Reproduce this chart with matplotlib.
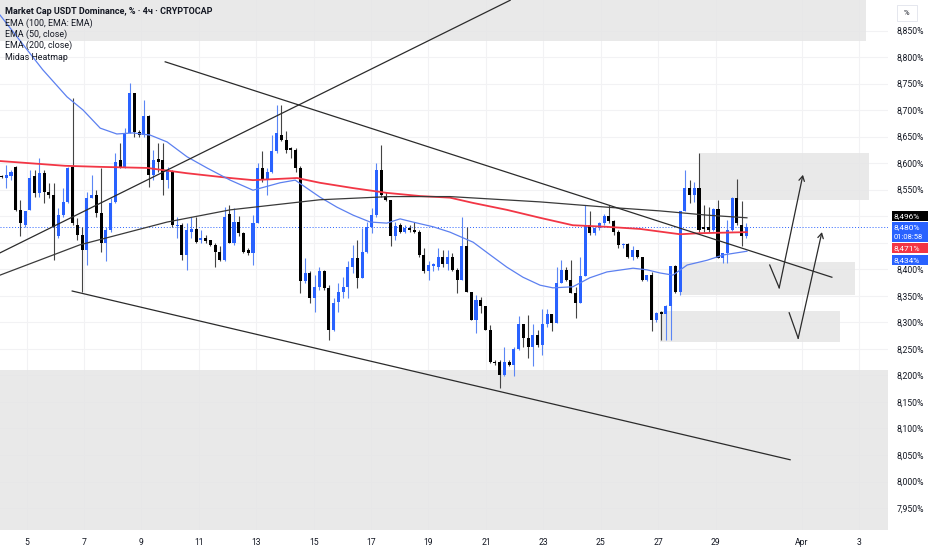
import matplotlib
matplotlib.use("Agg")
import matplotlib.pyplot as plt
from matplotlib.patches import Rectangle
import numpy as np

# 4h candles, USDT dominance (%)
opens = [8.576, 8.572, 8.575, 8.593, 8.512, 8.484, 8.512, 8.575, 8.543, 8.581,
         8.546, 8.540, 8.462, 8.502, 8.527, 8.593, 8.484, 8.465, 8.436, 8.534,
         8.540, 8.506, 8.449, 8.474, 8.527, 8.606, 8.593, 8.656, 8.732, 8.659,
         8.653, 8.688, 8.578, 8.607, 8.606, 8.568, 8.585, 8.482, 8.484, 8.427,
         8.471, 8.476, 8.455, 8.458, 8.455, 8.446, 8.433, 8.418, 8.505, 8.449,
         8.490, 8.468, 8.437, 8.430, 8.487, 8.590, 8.568, 8.584, 8.622, 8.654,
         8.644, 8.628, 8.625, 8.590, 8.377, 8.393, 8.345, 8.367, 8.396, 8.364,
         8.286, 8.339, 8.358, 8.367, 8.405, 8.421, 8.383, 8.433, 8.480, 8.502,
         8.587, 8.538, 8.531, 8.462, 8.484, 8.471, 8.478, 8.474, 8.471, 8.426,
         8.396, 8.407, 8.405, 8.424, 8.410, 8.424, 8.399, 8.380, 8.443, 8.358,
         8.304, 8.342, 8.330, 8.286, 8.226, 8.226, 8.201, 8.226, 8.220, 8.249,
         8.296, 8.270, 8.254, 8.277, 8.257, 8.296, 8.316, 8.299, 8.374, 8.399,
         8.380, 8.355, 8.337, 8.387, 8.483, 8.469, 8.477, 8.487, 8.500, 8.491,
         8.471, 8.445, 8.448, 8.424, 8.436, 8.424, 8.379, 8.389, 8.305, 8.319,
         8.316, 8.330, 8.406, 8.358, 8.509, 8.553, 8.540, 8.553, 8.479, 8.480,
         8.474, 8.513, 8.421, 8.431, 8.474, 8.534, 8.484, 8.462]
highs = [8.578, 8.597, 8.588, 8.595, 8.531, 8.509, 8.587, 8.587, 8.609, 8.587,
         8.562, 8.562, 8.515, 8.553, 8.593, 8.722, 8.496, 8.480, 8.546, 8.578,
         8.549, 8.590, 8.480, 8.534, 8.619, 8.638, 8.666, 8.751, 8.732, 8.662,
         8.719, 8.691, 8.625, 8.638, 8.638, 8.593, 8.587, 8.499, 8.487, 8.487,
         8.499, 8.499, 8.474, 8.465, 8.455, 8.449, 8.443, 8.518, 8.521, 8.515,
         8.500, 8.470, 8.440, 8.503, 8.600, 8.622, 8.590, 8.654, 8.710, 8.710,
         8.660, 8.630, 8.628, 8.594, 8.421, 8.396, 8.390, 8.405, 8.399, 8.370,
         8.345, 8.374, 8.386, 8.415, 8.446, 8.455, 8.478, 8.490, 8.515, 8.600,
         8.634, 8.545, 8.531, 8.490, 8.487, 8.484, 8.484, 8.490, 8.474, 8.440,
         8.415, 8.412, 8.440, 8.437, 8.437, 8.430, 8.403, 8.499, 8.480, 8.358,
         8.351, 8.348, 8.330, 8.295, 8.229, 8.229, 8.254, 8.229, 8.254, 8.311,
         8.296, 8.314, 8.296, 8.285, 8.326, 8.326, 8.316, 8.405, 8.418, 8.405,
         8.418, 8.367, 8.424, 8.521, 8.509, 8.480, 8.490, 8.504, 8.521, 8.493,
         8.474, 8.449, 8.449, 8.443, 8.437, 8.424, 8.389, 8.395, 8.320, 8.322,
         8.333, 8.406, 8.408, 8.509, 8.588, 8.568, 8.565, 8.619, 8.521, 8.518,
         8.515, 8.531, 8.431, 8.493, 8.537, 8.570, 8.528, 8.488]
lows = [8.572, 8.553, 8.569, 8.509, 8.462, 8.480, 8.512, 8.537, 8.537, 8.525,
        8.534, 8.418, 8.459, 8.499, 8.524, 8.484, 8.455, 8.358, 8.408, 8.534,
        8.499, 8.433, 8.415, 8.471, 8.524, 8.590, 8.590, 8.656, 8.650, 8.650,
        8.650, 8.556, 8.568, 8.584, 8.540, 8.553, 8.480, 8.459, 8.418, 8.399,
        8.458, 8.449, 8.449, 8.449, 8.443, 8.405, 8.415, 8.415, 8.449, 8.446,
        8.462, 8.430, 8.427, 8.408, 8.487, 8.565, 8.540, 8.581, 8.619, 8.641,
        8.619, 8.610, 8.584, 8.355, 8.374, 8.336, 8.320, 8.361, 8.361, 8.267,
        8.283, 8.320, 8.345, 8.345, 8.393, 8.364, 8.383, 8.430, 8.468, 8.498,
        8.537, 8.528, 8.443, 8.455, 8.468, 8.468, 8.471, 8.468, 8.424, 8.393,
        8.380, 8.396, 8.399, 8.405, 8.399, 8.396, 8.355, 8.380, 8.358, 8.304,
        8.279, 8.317, 8.286, 8.223, 8.220, 8.176, 8.198, 8.218, 8.198, 8.248,
        8.254, 8.232, 8.217, 8.254, 8.239, 8.292, 8.283, 8.298, 8.374, 8.377,
        8.355, 8.308, 8.337, 8.387, 8.465, 8.465, 8.474, 8.484, 8.488, 8.465,
        8.440, 8.440, 8.421, 8.418, 8.421, 8.377, 8.377, 8.283, 8.300, 8.267,
        8.267, 8.267, 8.355, 8.352, 8.509, 8.525, 8.527, 8.471, 8.471, 8.470,
        8.472, 8.421, 8.411, 8.411, 8.472, 8.484, 8.443, 8.459]
closes = [8.574, 8.578, 8.584, 8.512, 8.487, 8.509, 8.572, 8.543, 8.581, 8.546,
          8.540, 8.480, 8.502, 8.527, 8.590, 8.487, 8.465, 8.436, 8.534, 8.540,
          8.506, 8.449, 8.474, 8.524, 8.603, 8.593, 8.656, 8.732, 8.659, 8.653,
          8.688, 8.578, 8.606, 8.603, 8.568, 8.587, 8.484, 8.484, 8.427, 8.474,
          8.476, 8.452, 8.458, 8.454, 8.446, 8.433, 8.418, 8.499, 8.449, 8.490,
          8.468, 8.433, 8.430, 8.487, 8.590, 8.568, 8.584, 8.622, 8.656, 8.644,
          8.625, 8.625, 8.590, 8.377, 8.393, 8.345, 8.367, 8.396, 8.364, 8.286,
          8.336, 8.358, 8.367, 8.405, 8.421, 8.383, 8.433, 8.480, 8.502, 8.587,
          8.540, 8.531, 8.462, 8.481, 8.471, 8.477, 8.474, 8.471, 8.426, 8.396,
          8.408, 8.409, 8.424, 8.410, 8.424, 8.399, 8.380, 8.443, 8.358, 8.304,
          8.342, 8.330, 8.286, 8.226, 8.223, 8.201, 8.226, 8.220, 8.249, 8.296,
          8.270, 8.254, 8.277, 8.257, 8.296, 8.316, 8.299, 8.374, 8.399, 8.380,
          8.355, 8.337, 8.387, 8.483, 8.469, 8.477, 8.487, 8.500, 8.491, 8.471,
          8.446, 8.448, 8.424, 8.436, 8.424, 8.379, 8.389, 8.305, 8.317, 8.316,
          8.331, 8.406, 8.358, 8.509, 8.553, 8.540, 8.553, 8.474, 8.475, 8.474,
          8.513, 8.421, 8.431, 8.474, 8.534, 8.487, 8.462, 8.480]

# moving averages (candle index, value)
ema50_x = [-0.3, 8.7, 13.8, 17.2, 20.8, 24.3, 27.7, 31.3, 34.9, 39.1, 43.3, 48.2,
           53.0, 58.7, 61.9, 67.1, 70.7, 74.1, 77.7, 81.2, 84.0, 86.7, 91.0, 94.5,
           99.4, 103.0, 106.5, 109.9, 113.5, 116.2, 120.4, 124.0, 127.6, 133.1,
           136.0, 138.8, 141.5, 144.5, 148.7, 152.1, 157.1]
ema50_y = [8.879, 8.776, 8.725, 8.700, 8.666, 8.655, 8.657, 8.653, 8.640, 8.612,
           8.591, 8.568, 8.549, 8.563, 8.568, 8.536, 8.517, 8.502, 8.489, 8.487,
           8.495, 8.489, 8.480, 8.470, 8.451, 8.427, 8.404, 8.385, 8.370, 8.365,
           8.367, 8.384, 8.395, 8.402, 8.399, 8.393, 8.389, 8.408, 8.417, 8.427,
           8.434]
ema100_x = [-0.3, 16.5, 34.9, 48.2, 67.1, 81.9, 94.5, 113.5, 127.6, 138.8, 148.7, 157.1]
ema100_y = [8.389, 8.446, 8.489, 8.512, 8.531, 8.537, 8.537, 8.527, 8.517, 8.510,
            8.502, 8.497]
ema200_x = [-0.3, 13.4, 20.8, 30.7, 39.1, 48.2, 53.0, 62.3, 67.1, 74.1, 81.2, 88.2,
            94.5, 99.4, 106.5, 113.5, 120.4, 127.6, 134.6, 143.0, 147.2, 157.1]
ema200_y = [8.604, 8.595, 8.593, 8.591, 8.581, 8.572, 8.568, 8.572, 8.563, 8.553,
            8.544, 8.538, 8.535, 8.525, 8.512, 8.497, 8.483, 8.480, 8.476, 8.466,
            8.468, 8.470]

# drawings (candle index, price)
trend_up = [(-0.3, 8.431), (107.2, 8.907)]
trend_top = [(34.5, 8.791), (175.0, 8.385)]
trend_bottom = [(14.9, 8.359), (166.2, 8.041)]
zones = [(-0.3, 182.2, 8.830, 8.910), (-0.3, 187.3, 7.905, 8.210),
         (147.2, 182.8, 8.531, 8.619), (143.0, 179.9, 8.352, 8.414),
         (138.8, 176.7, 8.263, 8.321)]
arrow1 = [(161.9, 8.408), (163.9, 8.365), (168.9, 8.578)]
arrow2 = [(166.0, 8.318), (167.9, 8.270), (172.9, 8.470)]

day_labels = ['5', '7', '9', '11', '13', '15', '17', '19', '21', '23', '25', '27',
              '29', 'Apr', '3']
day_nums = [5, 7, 9, 11, 13, 15, 17, 19, 21, 23, 25, 27, 29, 32, 34]

last_price = 8.480

W, H = 932, 550
UP = '#2962ff'
DOWN = '#000000'
TXT = '#131722'
FONT = ['Roboto', 'DejaVu Sans']
plt.rcParams['font.family'] = FONT


def px_to_idx(px):
    return (px - 1.5) / 4.745


def day_to_idx(d):
    return px_to_idx(28.71 * d - 117)


fig = plt.figure(figsize=(W / 100, H / 100), dpi=100)
ax = fig.add_axes([0, 20 / H, 888 / W, 530 / H])
ax.set_xlim(px_to_idx(0), px_to_idx(888))
ax.set_ylim(7.9086, 8.9075)

# grid
yt = np.round(np.arange(7.95, 8.851, 0.05), 3)
for v in yt:
    ax.axhline(v, color='#f2f2f4', lw=0.8, zorder=0)
for d in day_nums:
    ax.axvline(day_to_idx(d), color='#f2f2f4', lw=0.8, zorder=0)

# heatmap zones and boxes
for x0, x1, y0, y1 in zones:
    ax.add_patch(Rectangle((x0, y0), x1 - x0, y1 - y0, facecolor='#e6e6e6',
                           edgecolor='none', alpha=0.85, zorder=1))

# candles
n = len(closes)
idx = np.arange(n)
o = np.array(opens); c = np.array(closes); hi = np.array(highs); lo = np.array(lows)
up = c >= o
cols = np.where(up, UP, DOWN)
wick_cols = np.where(up, '#5b86f5', '#444444')
ax.vlines(idx, lo, hi, colors=wick_cols, lw=0.8, zorder=3)
body_lo = np.minimum(o, c)
body_h = np.maximum(np.abs(c - o), 0.0015)
ax.bar(idx, body_h, bottom=body_lo, width=0.64, color=cols, linewidth=0, zorder=4)

# moving averages
ax.plot(ema200_x, ema200_y, color='#f23645', lw=1.3, zorder=5)
ax.plot(ema50_x, ema50_y, color='#5c80f0', lw=0.9, zorder=5)
ax.plot(ema100_x, ema100_y, color='#3a3a3a', lw=0.9, zorder=5)

# trend lines
for ln in (trend_up, trend_top, trend_bottom):
    ax.plot([ln[0][0], ln[1][0]], [ln[0][1], ln[1][1]], color='#2b2b2b', lw=0.9, zorder=6)

# arrows
for a in (arrow1, arrow2):
    ax.plot([a[0][0], a[1][0]], [a[0][1], a[1][1]], color='#2b2b2b', lw=0.9, zorder=6)
    ax.annotate('', xy=a[2], xytext=a[1],
                arrowprops=dict(arrowstyle='->,head_length=0.35,head_width=0.2',
                                color='#2b2b2b', lw=0.9, shrinkA=0, shrinkB=0),
                zorder=6)

# last price line
ax.axhline(last_price, color=UP, lw=0.7, ls=(0, (1, 2)), zorder=2)

# axes
for s in ax.spines.values():
    s.set_visible(False)
ax.yaxis.tick_right()
shown = [v for v in yt if abs(v - 8.45) > 1e-6 and abs(v - 8.5) > 1e-6]
ax.set_yticks(shown)
ax.set_yticklabels([('%.3f%%' % v).replace('.', ',') for v in shown])
ax.set_xticks([day_to_idx(d) for d in day_nums])
ax.set_xticklabels(day_labels)
ax.tick_params(axis='both', length=0, labelsize=6.2, colors=TXT)
ax.tick_params(axis='y', pad=6)
ax.tick_params(axis='x', pad=6)


def fig_box(x0, y0, x1, y1, color):
    fig.add_artist(Rectangle((x0 / W, 1 - y1 / H), (x1 - x0) / W, (y1 - y0) / H,
                             transform=fig.transFigure, facecolor=color,
                             edgecolor='none', zorder=10))


def fig_txt(x, y, s, **kw):
    fig.text(x / W, 1 - y / H, s, va='center', zorder=11, **kw)


# price labels on the scale
fig_box(892, 211, 928, 221, '#000000')
fig_txt(894, 216, '8,496%', color='white', fontsize=6.0)
fig_box(892, 222, 928, 242, UP)
fig_txt(894, 227, '8,480%', color='white', fontsize=6.0)
fig_txt(894, 237, '01:08:58', color='white', fontsize=5.5)
fig_box(892, 243, 928, 253, '#f23645')
fig_txt(894, 248, '8,471%', color='white', fontsize=6.0)
fig_box(892, 255, 928, 265, UP)
fig_txt(894, 260, '8,434%', color='white', fontsize=6.0)

# unit button
fig.add_artist(Rectangle((897 / W, 1 - 21 / H), 20 / W, 16 / H, transform=fig.transFigure,
                         facecolor='white', edgecolor='#e0e3eb', lw=0.6, zorder=10))
fig_txt(904, 13, '%', color=TXT, fontsize=5.5)

# legend
fig_txt(5, 11, 'Market Cap USDT Dominance, % · 4ч · CRYPTOCAP', color=TXT,
        fontsize=6.5, fontweight='bold')
fig_txt(5, 23, 'EMA (100, EMA: EMA)', color=TXT, fontsize=6.4)
fig_txt(5, 34, 'EMA (50, close)', color=TXT, fontsize=6.4)
fig_txt(5, 45, 'EMA (200, close)', color=TXT, fontsize=6.4)
fig_txt(5, 57, 'Midas Heatmap', color=TXT, fontsize=6.4)

fig.savefig('out.png', dpi=100)
